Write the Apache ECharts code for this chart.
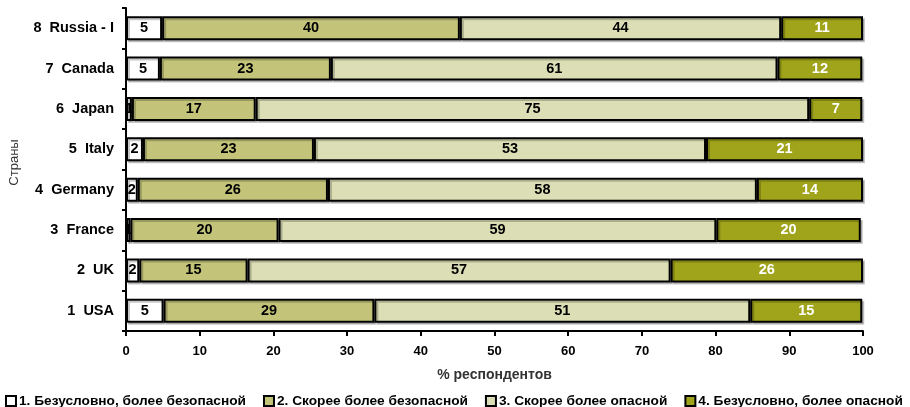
<!DOCTYPE html>
<html>
<head>
<meta charset="utf-8">
<script src="https://cdn.jsdelivr.net/npm/echarts@6/dist/echarts.min.js"></script>
<style>html,body{margin:0;padding:0;background:#fff}#c{width:910px;height:407px}</style>
</head>
<body>
<div id="c"></div>
<script>
var categories = ["1  USA", "2  UK", "3  France", "4  Germany", "5  Italy", "6  Japan", "7  Canada", "8  Russia - I"];
var seriesNames = ["1. Безусловно, более безопасной", "2. Скорее более безопасной", "3. Скорее более опасной", "4. Безусловно, более опасной"];
var s1 = [5.1, 1.8, 0.6, 1.6, 2.3, 0.8, 4.6, 4.9];
var s2 = [28.6, 14.7, 20.1, 25.8, 23.2, 16.8, 23.2, 40.4];
var s3 = [51.0, 57.4, 59.4, 58.2, 53.2, 75.1, 60.6, 43.6];
var s4 = [15.2, 26.1, 19.6, 14.4, 21.3, 7.2, 11.5, 11.1];
var xTicks = [0, 10, 20, 30, 40, 50, 60, 70, 80, 90, 100];

var colors = ["#ffffff", "#c3c47a", "#dcdfb5", "#a0a41a"];
var labelColors = ["#000", "#000", "#000", "#fff"];
var FONT = "Liberation Sans, Arial, sans-serif";
var data = [s1, s2, s3, s4];

var chart = echarts.init(document.getElementById('c'));
chart.setOption({
  animation: false,
  textStyle: {fontFamily: FONT},
  grid: {left: 125, right: 47, top: 8, bottom: 76, containLabel: false},
  legend: {
    top: 394, left: 5, width: 1000, padding: 0, itemWidth: 10, itemHeight: 10, itemGap: 17,
    icon: 'rect',
    textStyle: {fontFamily: FONT, fontWeight: 'bold', fontSize: 13.7, color: '#000', padding: [0,0,0,-2]},
    data: seriesNames
  },
  xAxis: {
    type: 'value', min: xTicks[0], max: xTicks[xTicks.length-1], interval: 10,
    name: '% респондентов', nameLocation: 'middle', nameGap: 37,
    nameTextStyle: {fontFamily: FONT, fontWeight: 'bold', fontSize: 14, color: '#333'},
    axisLine: {show: true, lineStyle: {color: '#000', width: 2}},
    axisTick: {show: true, length: 5, lineStyle: {color: '#000', width: 2}},
    axisLabel: {fontFamily: FONT, fontWeight: 'bold', fontSize: 13, color: '#000', margin: 14},
    splitLine: {show: false}
  },
  yAxis: {
    type: 'category', data: categories,
    name: 'Страны', nameLocation: 'middle', nameGap: 105, nameRotate: 90,
    nameTextStyle: {fontFamily: FONT, fontWeight: 'normal', fontSize: 13, color: '#333', padding: [0, 0, 0, 14]},
    axisLine: {show: true, lineStyle: {color: '#000', width: 2}},
    axisTick: {show: true, length: 4, lineStyle: {color: '#000', width: 2}},
    axisLabel: {fontFamily: FONT, fontWeight: 'bold', fontSize: 14.5, color: '#000', margin: 12}
  },
  series: data.map(function (d, i) {
    return {
      name: seriesNames[i], type: 'bar', stack: 'total', data: d,
      barWidth: 24,
      itemStyle: {color: colors[i], borderColor: '#000', borderWidth: 2,
        shadowColor: 'rgba(0,0,0,0.22)', shadowOffsetX: 2, shadowOffsetY: 2, shadowBlur: 0},
      labelLayout: {hideOverlap: false},
      label: {
        show: true, position: 'inside', color: labelColors[i], overflow: 'none',
        fontFamily: FONT, fontWeight: 'bold', fontSize: 14.5,
        formatter: function (p) { return Math.round(p.value); }
      }
    };
  })
});
</script>
</body>
</html>
